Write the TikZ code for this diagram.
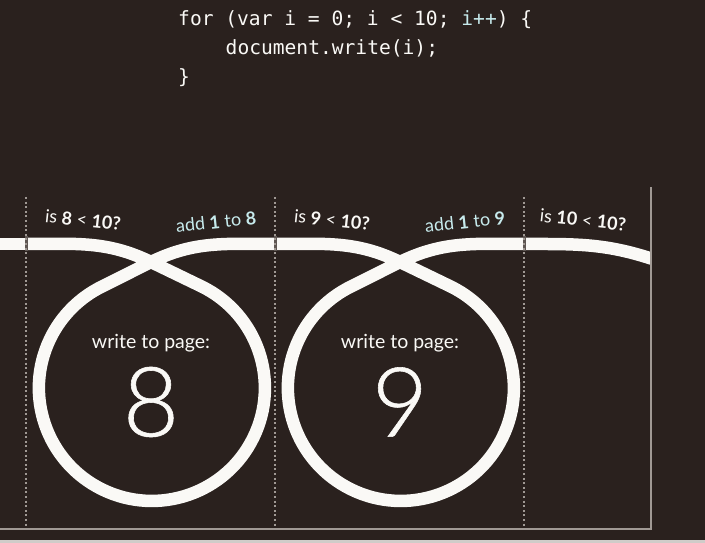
\documentclass[tikz,border=0pt]{standalone}
\usepackage{fontspec}
\setmainfont{Lato}
\setmonofont{DejaVu Sans Mono}
\newfontfamily\thinfont{Lato Light}[FakeBold=0.6]
\usepackage{tikz}

\definecolor{board}{RGB}{42,33,30}
\definecolor{chalk}{RGB}{250,249,246}
\definecolor{aqua}{RGB}{198,234,236}
\definecolor{rulegray}{RGB}{160,153,148}

\tikzset{
  band/.style={draw=chalk, line width=12.5pt, line join=round},
  divider/.style={draw=rulegray, line width=2pt, dash pattern=on 2pt off 2.6pt},
  test/.style={text=chalk, font=\fontsize{18}{18}\selectfont, rotate=-6, inner sep=0pt},
  incr/.style={text=aqua, font=\fontsize{18}{18}\selectfont, rotate=6, inner sep=0pt},
  pagetext/.style={text=chalk, font=\fontsize{19.5}{20}\selectfont, inner sep=0pt},
  digit/.style={text=chalk, font=\thinfont\fontsize{97}{97}\selectfont, inner sep=0pt},
  codeline/.style={text=chalk, font=\ttfamily\fontsize{19.6}{20}\selectfont, anchor=base west, inner sep=0pt},
}

\begin{document}
\begin{tikzpicture}[x=1pt, y=1pt]
    \useasboundingbox (0,0) rectangle (705,543);
    \fill[board] (0,0) rectangle (705,543);
    \fill[rulegray!50!white] (0,0) rectangle (705,3);
    % code
    \node[codeline] (line1) at (178,517) {for (var i = 0; i < 10; {\color{aqua}i++}) \{};
    \node[codeline] (line2) at (225.5,488) {document.write(i);};
    \node[codeline] (line3) at (178,459) {\}};
    % white loop
    \draw[band] (0,299) -- (26,299);
    \foreach \x in {26,275}
      \draw[band] (\x,299) to[out=0,in=154] (\x+125,281) -- ++(-25.8:56)
        arc[start angle=64, end angle=-244, radius=113pt] -- (\x+125,281)
        to[out=26,in=180] (\x+249,299);
    \begin{scope}
      \clip (0,0) rectangle (650.5,543);
      \draw[band] (524,299) to[out=0,in=162] (651,284.5) -- ++(-18:10);
    \end{scope}
    % dividers and frame
    \foreach \x in {26,275,524} {
      \draw[draw=rulegray!45!board, line width=3pt] (\x,306.5) -- (\x,291.5);
      \draw[divider] (\x,346) -- (\x,15);
    }
    \draw[rulegray, line width=1.2pt] (0,14) -- (651,14) -- (651,356);
    % labels
    \node[test] (test8) at (83,323) {is \textbf{8} < \textbf{10?}};
    \node[incr] (add8) at (216,321) {add \textbf{1} to \textbf{8}};
    \node[test] (test9) at (332,323) {is \textbf{9} < \textbf{10?}};
    \node[incr] (add9) at (465,321) {add \textbf{1} to \textbf{9}};
    \node[test] (test10) at (583,323) {is \textbf{10} < \textbf{10?}};
    \node[pagetext] (page8) at (151,200) {write to page:};
    \node[pagetext] (page9) at (400,200) {write to page:};
    \node[digit] (out8) at (151,141) {8};
    \node[digit] (out9) at (400,141) {9};
\end{tikzpicture}
\end{document}
